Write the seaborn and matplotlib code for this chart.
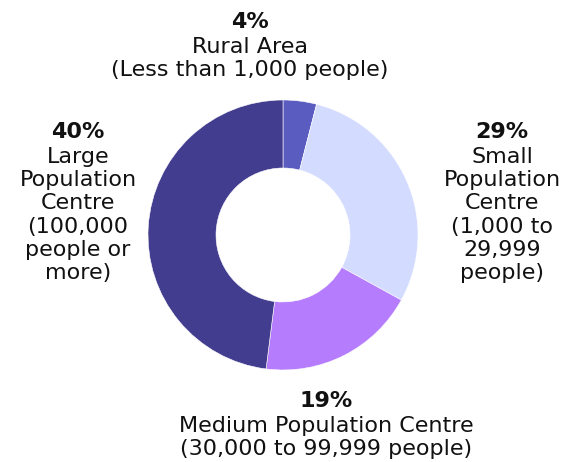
import numpy as np
import pandas as pd
import matplotlib.pyplot as plt
import seaborn as sns

# slice sizes as drawn (share of the ring), and the printed labels
areas = ['Rural Area', 'Small Population Centre', 'Medium Population Centre', 'Large Population Centre']
shares = [4, 29, 19, 48]
pct_labels = ['4%', '29%', '19%', '40%']
desc_labels = [
    'Rural Area\n(Less than 1,000 people)',
    'Small\nPopulation\nCentre\n(1,000 to\n29,999\npeople)',
    'Medium Population Centre\n(30,000 to 99,999 people)',
    'Large\nPopulation\nCentre\n(100,000\npeople or\nmore)',
]
colors = ['#5b5cbf', '#d3dbff', '#b57dfd', '#433d8f']

df = pd.DataFrame({'area': areas, 'share': shares, 'pct': pct_labels, 'desc': desc_labels})

sns.set_theme(style='white')
plt.rcParams['font.family'] = ['DejaVu Sans']

W, H = 568, 462
fig = plt.figure(figsize=(W / 100, H / 100), dpi=100)
ax = fig.add_axes([0, 0, 1, 1])
ax.set_axis_off()

ax.pie(df['share'], colors=colors, startangle=90, counterclock=False,
       center=(283, H - 235), radius=135,
       wedgeprops=dict(width=68, edgecolor='white', linewidth=0.4))
ax.set_aspect('equal')
ax.set_xlim(0, W)
ax.set_ylim(0, H)

# label blocks: (x centre, y of percent line from top)
pos = [(250, 22), (502, 132), (326, 401), (78, 132)]
fs = 16
for (x, y), p, d in zip(pos, df['pct'], df['desc']):
    ax.text(x, H - y, p, ha='center', va='center', fontsize=fs,
            fontweight='bold', color='#111111')
    ax.text(x, H - y - 15, d, ha='center', va='top', fontsize=fs,
            color='#111111', linespacing=1.2)

fig.savefig('out.png', dpi=100)
